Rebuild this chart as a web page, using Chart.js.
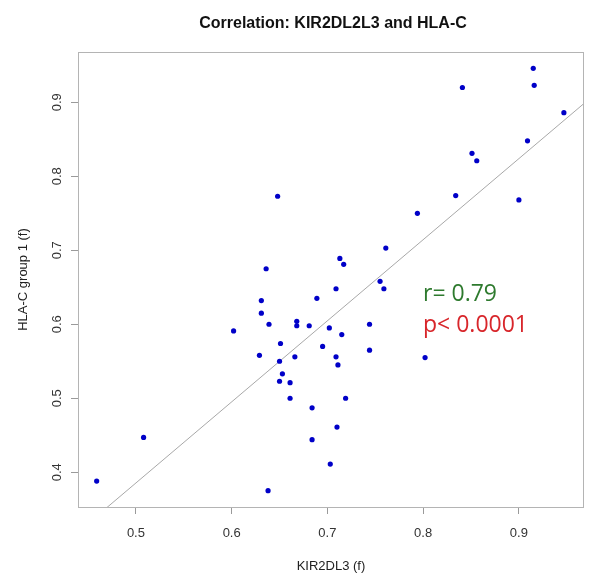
<!DOCTYPE html>
<html>
<head>
<meta charset="utf-8">
<script src="https://cdn.jsdelivr.net/npm/chart.js@4/dist/chart.umd.min.js"></script>
<style>
  html, body { margin: 0; padding: 0; background: #ffffff; }
  #wrap { width: 601px; height: 579px; }
</style>
</head>
<body>
<div id="wrap"><canvas id="c" width="601" height="579"></canvas></div>
<script>
// ---- data ----
const kir2dl3 = [0.648,0.713,0.717,0.636,0.709,0.755,0.759,0.915,0.916,0.841,0.947,0.909,0.851,0.856,0.834,0.900,0.794,0.761,0.689,0.631,0.631,0.639,0.668,0.668,0.681,0.702,0.602,0.744,0.715,0.651,0.695,0.629,0.650,0.666,0.709,0.711,0.744,0.653,0.650,0.661,0.661,0.719,0.684,0.710,0.684,0.703,0.638,0.508,0.459,0.802];
const hlaC    = [0.773,0.689,0.681,0.675,0.648,0.658,0.648,0.946,0.923,0.920,0.886,0.848,0.831,0.821,0.774,0.768,0.750,0.703,0.635,0.632,0.615,0.600,0.604,0.598,0.598,0.595,0.591,0.600,0.586,0.574,0.570,0.558,0.550,0.556,0.556,0.545,0.565,0.533,0.523,0.521,0.500,0.500,0.487,0.461,0.444,0.411,0.375,0.447,0.388,0.555];
const xTicks = [0.5, 0.6, 0.7, 0.8, 0.9];
const yTicks = [0.4, 0.5, 0.6, 0.7, 0.8, 0.9];
const xRange = [0.4395, 0.968];
const yRange = [0.353, 0.968];
const fitIntercept = -0.1625;
const fitSlope = 1.096;
const titleText = 'Correlation: KIR2DL2L3 and HLA-C';
const xTitle = 'KIR2DL3 (f)';
const yTitle = 'HLA-C group 1 (f)';
const statLines = ['r= 0.79', 'p< 0.0001'];
const statColors = ['#2e7a2e', '#d8262b'];

const points = kir2dl3.map((x, i) => ({ x: x, y: hlaC[i] }));
const fitLine = xRange.map(x => ({ x: x, y: fitIntercept + fitSlope * x }));

const RFONT = '"Liberation Sans", Arial, Helvetica, sans-serif';

const decor = {
  id: 'decor',
  afterDraw(chart) {
    const ctx = chart.ctx;
    const a = chart.chartArea;
    const xs = chart.scales.x, ys = chart.scales.y;
    ctx.save();
    // box
    ctx.strokeStyle = '#b4b4b4';
    ctx.lineWidth = 1;
    ctx.strokeRect(Math.round(a.left) + 0.5, Math.round(a.top) + 0.5,
                   Math.round(a.right - a.left) - 1, Math.round(a.bottom - a.top));
    const cx = (a.left + a.right) / 2;
    const cy = (a.top + a.bottom) / 2;
    // title
    ctx.fillStyle = '#111';
    ctx.font = 'bold 16px ' + RFONT;
    ctx.textAlign = 'center';
    ctx.textBaseline = 'alphabetic';
    ctx.fillText(titleText, cx + 2, 28);
    // x tick labels
    ctx.fillStyle = '#333';
    ctx.font = '13px ' + RFONT;
    xTicks.forEach(v => {
      ctx.fillText(v.toFixed(1), xs.getPixelForValue(v), 537);
    });
    // x title
    ctx.fillStyle = '#222';
    ctx.fillText(xTitle, cx, 570);
    // y tick labels (rotated)
    ctx.fillStyle = '#333';
    yTicks.forEach(v => {
      ctx.save();
      ctx.translate(61, ys.getPixelForValue(v));
      ctx.rotate(-Math.PI / 2);
      ctx.fillText(v.toFixed(1), 0, 0);
      ctx.restore();
    });
    // y title
    ctx.save();
    ctx.fillStyle = '#222';
    ctx.translate(26.5, cy);
    ctx.rotate(-Math.PI / 2);
    ctx.fillText(yTitle, 0, 0);
    ctx.restore();
    // stats annotation
    ctx.textAlign = 'left';
    ctx.font = '23px "Open Sans", sans-serif';
    ctx.fillStyle = statColors[0];
    ctx.fillText(statLines[0], 423, 301);
    ctx.fillStyle = statColors[1];
    ctx.fillText(statLines[1], 423, 332);
    ctx.restore();
  }
};

new Chart(document.getElementById('c'), {
  data: {
    datasets: [
      {
        type: 'line',
        data: fitLine,
        borderColor: '#a8a8a8',
        borderWidth: 1,
        pointRadius: 0,
        fill: false,
        order: 2
      },
      {
        type: 'scatter',
        data: points,
        pointRadius: 2.6,
        pointBackgroundColor: '#0000c8',
        pointBorderWidth: 0,
        order: 1
      }
    ]
  },
  options: {
    responsive: false,
    animation: false,
    devicePixelRatio: 1,
    layout: { padding: { top: 52, right: 17, left: 0, bottom: 0 } },
    plugins: { legend: { display: false }, title: { display: false }, tooltip: { enabled: false } },
    scales: {
      x: {
        type: 'linear',
        position: 'bottom',
        min: xRange[0], max: xRange[1],
        afterBuildTicks: s => { s.ticks = xTicks.map(v => ({ value: v })); },
        afterFit: s => { s.height = 72; },
        ticks: { display: false },
        border: { display: false },
        grid: { drawOnChartArea: false, drawTicks: true, tickLength: 7, color: '#9a9a9a', lineWidth: 1 }
      },
      y: {
        type: 'linear',
        position: 'left',
        min: yRange[0], max: yRange[1],
        afterBuildTicks: s => { s.ticks = yTicks.map(v => ({ value: v })); },
        afterFit: s => { s.width = 78; },
        ticks: { display: false },
        border: { display: false },
        grid: { drawOnChartArea: false, drawTicks: true, tickLength: 7, color: '#9a9a9a', lineWidth: 1 }
      }
    }
  },
  plugins: [decor]
});
</script>
</body>
</html>
